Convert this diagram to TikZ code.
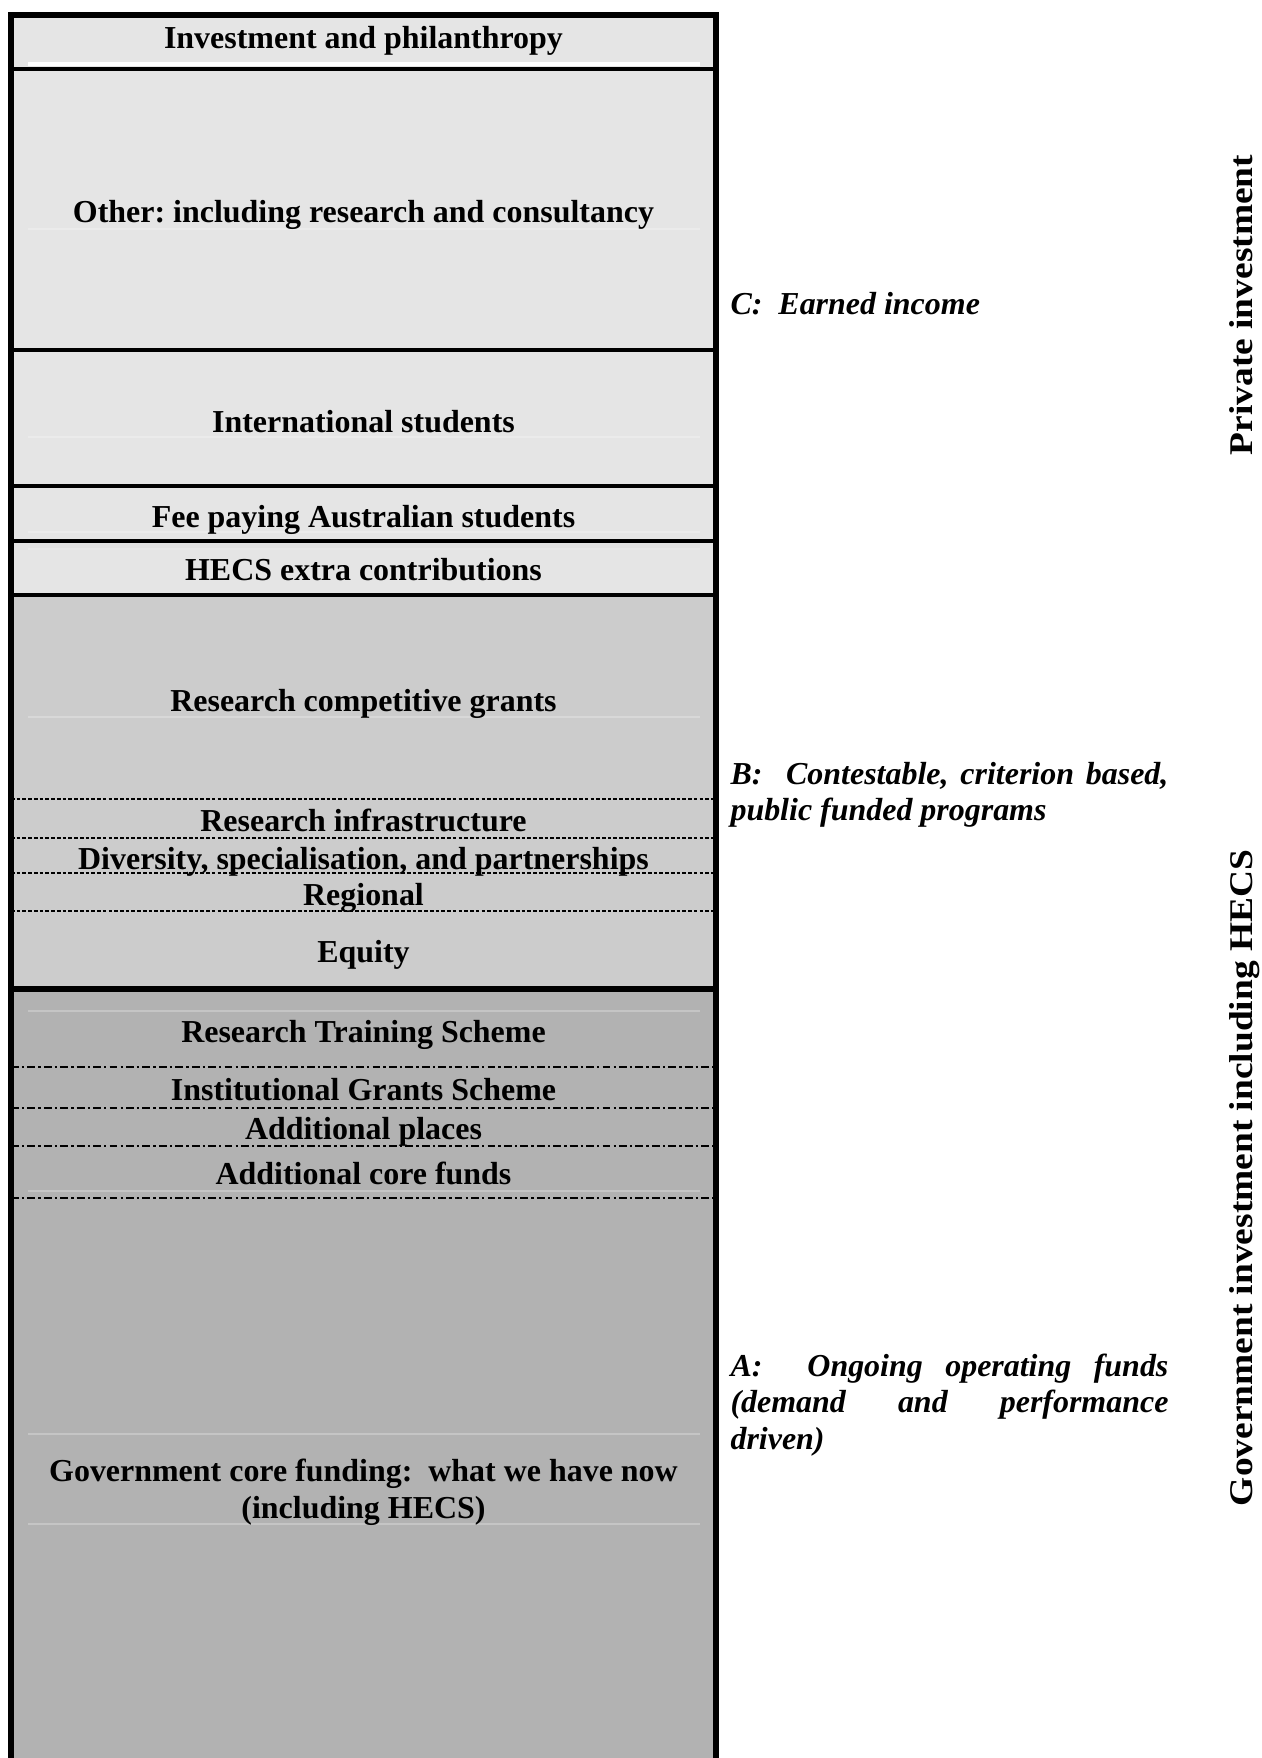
\documentclass[tikz,border=0pt]{standalone}
\usepackage{fontspec}
\setmainfont{Liberation Serif}
\frenchspacing
\hyphenpenalty=10000
\tolerance=9999
\tikzset{
  every node/.style={inner sep=0pt, font=\fontsize{12.25}{14.1}\selectfont\bfseries},
  row/.style={anchor=base},
  note/.style={anchor=base west, text width=167.9pt, align=justify,
    font=\fontsize{12.25}{14.1}\selectfont\bfseries\itshape},
  side/.style={anchor=base, rotate=90, font=\fontsize{12.7}{14}\selectfont\bfseries},
  frame/.style={line width=2pt},
  rule/.style={line width=1.5pt},
  dotrule/.style={line width=1pt, dash pattern=on 1.4pt off 0.8pt},
  dashdotrule/.style={line width=0.8pt, dash pattern=on 3pt off 1.2pt on 0.9pt off 1.2pt},
  faint/.style={white, opacity=.25, line width=0.4pt}
}

\begin{document}
\begin{tikzpicture}[x=0.3834pt, y=-0.3834pt]
  \useasboundingbox (0,0) rectangle (1261,1758);

  % shaded bands: C, B, A
  \fill[black!10] (11,15) rectangle (716,595);
  \fill[black!20] (11,595) rectangle (716,989);
  \fill[black!30] (11,989) rectangle (716,1758);

  % paragraph rules left over in the cells
  \draw[white, line width=1.2pt] (28,64) -- (700,64);
  \foreach \y in {229,437,532,549,717,1011,1191,1434,1524}
    \draw[faint] (28,\y) -- (700,\y);

  \foreach \y in {799,838,873,911}
    \draw[dotrule] (11,\y) -- (716,\y);
  \foreach \y in {1067,1108,1146,1198}
    \draw[dashdotrule] (11,\y) -- (716,\y);
  \foreach \y in {69,350,486,541,595}
    \draw[rule] (11,\y) -- (716,\y);
  \draw[frame] (11,989) -- (716,989);
  \draw[frame] (11,1758) -- (11,15) -- (716,15) -- (716,1758);

  \node (invest) [row] at (363.5,49) {Investment and philanthropy};
  \node (other) [row] at (363.5,223) {Other: including research and consultancy};
  \node (intl) [row] at (363.5,432) {International students};
  \node (fee) [row] at (363.5,527) {Fee paying Australian students};
  \node (hecs) [row] at (363.5,580) {HECS extra contributions};
  \node (grants) [row] at (363.5,711) {Research competitive grants};
  \node (infra) [row] at (363.5,831) {Research infrastructure};
  \node (div) [row] at (363.5,869) {Diversity, specialisation, and partnerships};
  \node (region) [row] at (363.5,905) {Regional};
  \node (equity) [row] at (363.5,962) {Equity};
  \node (rts) [row] at (363.5,1042) {Research Training Scheme};
  \node (igs) [row] at (363.5,1100) {Institutional Grants Scheme};
  \node (places) [row] at (363.5,1139) {Additional places};
  \node (corefunds) [row] at (363.5,1184) {Additional core funds};
  \node (core) [row, align=center] at (363.5,1518)
    {Government core funding:\ \ what we have now\\(including HECS)};

  \node (earned) [note] at (730,314) {C:\ \ Earned income};
  \node (contest) [note] at (730,784)
    {B:\ \ Contestable, criterion based, public funded programs};
  \node (ongoing) [note] at (730,1376)
    {A:\ \ Ongoing operating funds (demand and performance\linebreak driven)};

  \node (private) [side] at (1252,305) {\scalebox{1.13}[1]{Private investment}};
  \node (govt) [side] at (1252,1178)
    {\scalebox{1.13}[1]{Government investment including HECS}};
\end{tikzpicture}
\end{document}
